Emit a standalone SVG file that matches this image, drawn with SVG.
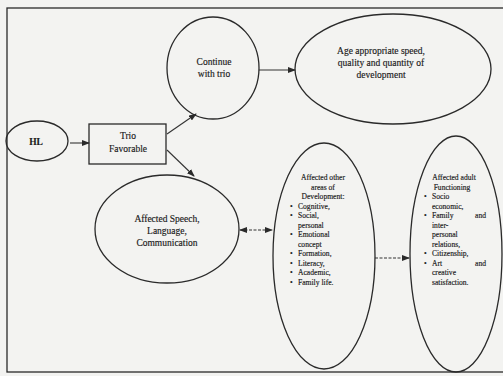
<svg xmlns="http://www.w3.org/2000/svg" width="503" height="376" viewBox="0 0 503 376">
<defs>
<marker id="ah" markerWidth="8" markerHeight="6" refX="7" refY="3" orient="auto" markerUnits="userSpaceOnUse">
<path d="M0,0 L8,3 L0,6 Z" fill="#2a2a2a"/>
</marker>
<marker id="ahs" markerWidth="8" markerHeight="6" refX="1" refY="3" orient="auto" markerUnits="userSpaceOnUse">
<path d="M8,0 L0,3 L8,6 Z" fill="#2a2a2a"/>
</marker>
</defs>
<style>
.shape{fill:none;stroke:#2a2a2a;stroke-width:1.3}
.conn{fill:none;stroke:#333;stroke-width:1.1}
text{font-family:"Liberation Serif","Times New Roman",serif;fill:#1a1a1a;stroke:#1a1a1a;stroke-width:0.15}
.m{font-size:9.5px;text-anchor:middle}
.b{font-weight:bold}
.s{font-size:7.6px}
.sc{font-size:7.6px;text-anchor:middle}
.se{font-size:7.6px;text-anchor:end}
</style>
<rect x="0" y="0" width="503" height="376" fill="#f3f3f1"/>
<rect x="7" y="8" width="500" height="364" class="shape" stroke-width="1.5"/>
<g id="connectors">
<line class="conn" x1="259" y1="70" x2="295" y2="70" marker-end="url(#ah)"/>
<line class="conn" x1="70" y1="143" x2="89" y2="143" marker-end="url(#ah)"/>
<line class="conn" x1="167" y1="134" x2="196" y2="114" marker-end="url(#ah)"/>
<line class="conn" x1="167" y1="150" x2="194" y2="176" marker-end="url(#ah)"/>
<line class="conn" x1="240" y1="230" x2="272" y2="230" marker-start="url(#ahs)" marker-end="url(#ah)" stroke-dasharray="3,1.5"/>
<line class="conn" x1="375" y1="258" x2="409" y2="258" marker-end="url(#ah)" stroke-dasharray="3,1.5"/>
</g>
<g id="continue">
<ellipse class="shape" cx="213" cy="68" rx="46" ry="51"/>
<text class="m" x="214" y="65">Continue</text>
<text class="m" x="214" y="77">with trio</text>
</g>
<g id="age">
<ellipse class="shape" cx="393" cy="69" rx="98" ry="55"/>
<text class="m" x="381" y="54">Age appropriate speed,</text>
<text class="m" x="381" y="66">quality and quantity of</text>
<text class="m" x="381" y="78">development</text>
</g>
<g id="hl">
<ellipse class="shape" cx="37" cy="141" rx="31" ry="20"/>
<text class="m b" x="36" y="145">HL</text>
</g>
<g id="trio">
<rect class="shape" x="89" y="124" width="77" height="40"/>
<text class="m" x="128" y="139">Trio</text>
<text class="m" x="128" y="152">Favorable</text>
</g>
<g id="speech">
<ellipse class="shape" cx="167" cy="229" rx="72" ry="54"/>
<text class="m" x="167" y="222" font-size="10">Affected Speech,</text>
<text class="m" x="167" y="234" font-size="10">Language,</text>
<text class="m" x="167" y="246" font-size="10">Communication</text>
</g>
<g id="other">
<ellipse class="shape" cx="324" cy="256" rx="51" ry="113"/>
<text class="sc" x="323" y="180">Affected other</text>
<text class="sc" x="323" y="189.5">areas of</text>
<text class="sc" x="323" y="199">Development:</text>
<g class="s">
<text x="290" y="208.5">•</text><text x="298" y="208.5">Cognitive,</text>
<text x="290" y="218">•</text><text x="298" y="218">Social,</text>
<text x="298" y="227.5">personal</text>
<text x="290" y="237">•</text><text x="298" y="237">Emotional</text>
<text x="298" y="246.5">concept</text>
<text x="290" y="256">•</text><text x="298" y="256">Formation,</text>
<text x="290" y="265.5">•</text><text x="298" y="265.5">Literacy,</text>
<text x="290" y="275">•</text><text x="298" y="275">Academic,</text>
<text x="290" y="284.5">•</text><text x="298" y="284.5">Family life.</text>
</g>
</g>
<g id="adult">
<ellipse class="shape" cx="456" cy="254" rx="46" ry="118"/>
<text class="sc" x="454" y="180">Affected adult</text>
<text class="sc" x="452" y="189.5">Functioning</text>
<g class="s">
<text x="424" y="199">•</text><text x="432" y="199">Socio</text>
<text x="432" y="208.5">economic,</text>
<text x="424" y="218">•</text><text x="432" y="218">Family</text><text class="se" x="486" y="218">and</text>
<text x="432" y="227.5">inter-</text>
<text x="432" y="237">personal</text>
<text x="432" y="246.5">relations,</text>
<text x="424" y="256">•</text><text x="432" y="256">Citizenship,</text>
<text x="424" y="265.5">•</text><text x="432" y="265.5">Art</text><text class="se" x="486" y="265.5">and</text>
<text x="432" y="275">creative</text>
<text x="432" y="284.5">satisfaction.</text>
</g>
</g>
</svg>
